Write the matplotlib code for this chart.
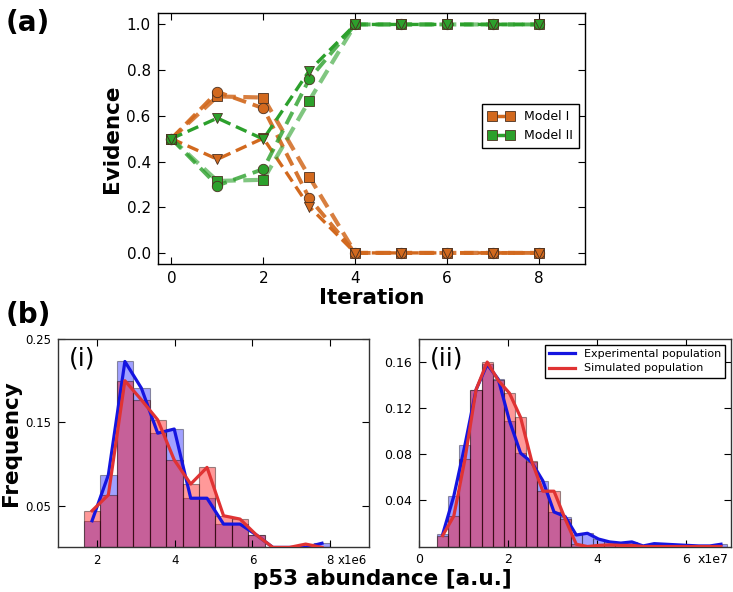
import numpy as np
import matplotlib
matplotlib.use("Agg")
import matplotlib.pyplot as plt

# ---------------- data ----------------
iterations = [0, 1, 2, 3, 4, 5, 6, 7, 8]
m1_square = [0.50, 0.685, 0.68, 0.333, 0.0, 0.0, 0.0, 0.0, 0.0]
m1_circle = [0.50, 0.705, 0.633, 0.239, 0.0, 0.0, 0.0, 0.0, 0.0]
m1_tri = [0.50, 0.41, 0.502, 0.202, 0.0, 0.0, 0.0, 0.0, 0.0]
m2_square = [0.50, 0.315, 0.32, 0.667, 1.0, 1.0, 1.0, 1.0, 1.0]
m2_circle = [0.50, 0.295, 0.367, 0.761, 1.0, 1.0, 1.0, 1.0, 1.0]
m2_tri = [0.50, 0.59, 0.498, 0.798, 1.0, 1.0, 1.0, 1.0, 1.0]
legend_a = ["Model I", "Model II"]

# panel (i): bin edges in units of 1e6
edges_i = [1.66, 2.08, 2.50, 2.93, 3.35, 3.77, 4.20, 4.62, 5.04, 5.47,
           5.89, 6.31, 6.74, 7.16, 7.58, 8.00]
exp_i = [0.032, 0.087, 0.223, 0.191, 0.137, 0.142, 0.059, 0.059, 0.028,
         0.028, 0.015, 0.0, 0.0, 0.0, 0.005]
sim_i = [0.044, 0.063, 0.200, 0.177, 0.153, 0.105, 0.076, 0.096, 0.038,
         0.034, 0.015, 0.0, 0.0, 0.004, 0.0]

# panel (ii): bin edges in units of 1e7
edges_ii = [0.40, 0.65, 0.90, 1.15, 1.40, 1.65, 1.90, 2.15, 2.40, 2.65,
            2.90, 3.15, 3.40, 3.65, 3.90, 4.15, 4.40, 4.65, 4.90, 5.15,
            5.40, 5.65, 5.90, 6.15, 6.40, 6.65, 6.90]
exp_ii = [0.0105, 0.0437, 0.088, 0.136, 0.158, 0.145, 0.109, 0.081, 0.073,
          0.057, 0.030, 0.026, 0.010, 0.0115, 0.0065, 0.004, 0.003, 0.004,
          0.0005, 0.0025, 0.002, 0.0015, 0.001, 0.0005, 0.0005, 0.002]
sim_ii = [0.0095, 0.0264, 0.0756, 0.136, 0.160, 0.144, 0.133, 0.112, 0.074,
          0.048, 0.048, 0.024, 0.002, 0.0, 0.001, 0.0015, 0.001, 0.001,
          0.0, 0.0, 0.0, 0.0, 0.0, 0.0, 0.0, 0.0]
legend_b = ["Experimental population", "Simulated population"]

xticks_i = [2, 4, 6, 8]
yticks_i = [0.05, 0.15, 0.25]
xticks_ii = [0, 2, 4, 6]
yticks_ii = [0.04, 0.08, 0.12, 0.16]

# ---------------- style ----------------
plt.rcParams['font.family'] = ['DejaVu Sans']
ORANGE = '#D2691E'
GREEN = '#2CA02C'
BLUE = '#1515E0'
RED = '#E03333'

fig = plt.figure(figsize=(7.33, 5.92), dpi=100)

def classic_ticks(ax, size):
    ax.tick_params(direction='in', top=True, right=True, length=5,
                   width=0.8, labelsize=size, colors='black', pad=5)

# ---------------- panel (a) ----------------
axa = fig.add_axes([0.2151, 0.5535, 0.583, 0.4245])
runs = [
    (m1_square, ORANGE, 's', 3.0, 0.85),
    (m1_circle, ORANGE, 'o', 2.8, 0.92),
    (m1_tri, ORANGE, 'v', 2.4, 1.0),
    (m2_square, GREEN, 's', 3.0, 0.6),
    (m2_circle, GREEN, 'o', 2.8, 0.8),
    (m2_tri, GREEN, 'v', 2.4, 1.0),
]
for vals, col, mk, lw, al in runs:
    axa.plot(iterations, vals, '--', color=col, lw=lw, alpha=al,
             dashes=(3.5, 1.8), zorder=2)
for vals, col, mk, lw, al in runs:
    axa.plot(iterations, vals, linestyle='none', marker=mk, ms=7.5,
             markerfacecolor=col, markeredgecolor='#4a3020', mew=0.6,
             zorder=3)
h1, = axa.plot([], [], '--', color=ORANGE, lw=2.5, marker='s', ms=7,
               markerfacecolor=ORANGE, markeredgecolor='#4a3020', mew=0.6)
h2, = axa.plot([], [], '--', color=GREEN, lw=2.5, marker='s', ms=7,
               markerfacecolor=GREEN, markeredgecolor='#4a3020', mew=0.6)
leg = axa.legend([h1, h2], legend_a, loc='center right',
                 bbox_to_anchor=(1.0, 0.55), numpoints=2, fontsize=9,
                 fancybox=False, framealpha=1, edgecolor='black',
                 handlelength=2.0, borderpad=0.5, labelspacing=0.5)
leg.get_frame().set_linewidth(1.0)
axa.set_xlim(-0.3, 9.0)
axa.set_ylim(-0.05, 1.05)
axa.set_xticks([0, 2, 4, 6, 8])
axa.set_yticks([0.0, 0.2, 0.4, 0.6, 0.8, 1.0])
axa.set_yticklabels(['0.0', '0.2', '0.4', '0.6', '0.8', '1.0'])
classic_ticks(axa, 11)
axa.set_xlabel('Iteration', fontsize=15.5, fontweight='bold', labelpad=1)
axa.set_ylabel('Evidence', fontsize=15.5, fontweight='bold', labelpad=3)
for s in axa.spines.values():
    s.set_linewidth(1.0)

fig.text(0.008, 0.985, '(a)', fontsize=20, fontweight='bold', va='top')
fig.text(0.008, 0.492, '(b)', fontsize=20, fontweight='bold', va='top')

# ---------------- histograms ----------------
def hist_panel(rect, edges, exp, sim, xlim, ylim, xticks, yticks, tag,
               offset, offset_x, ticksize):
    ax = fig.add_axes(rect)
    e = np.array(edges)
    w = np.diff(e)
    centers = e[:-1] + w / 2
    ax.bar(e[:-1], exp, width=w, align='edge', color='#0000FF', alpha=0.37,
           edgecolor='black', linewidth=0.8, zorder=1)
    ax.bar(e[:-1], sim, width=w, align='edge', color='#FF0000', alpha=0.4,
           edgecolor='black', linewidth=0.8, zorder=1)
    l1, = ax.plot(centers, exp, color=BLUE, lw=2.3, zorder=3)
    l2, = ax.plot(centers, sim, color=RED, lw=2.3, zorder=4)
    ax.set_xlim(*xlim)
    ax.set_ylim(*ylim)
    ax.set_xticks(xticks)
    ax.set_yticks(yticks)
    ax.set_yticklabels([('%.2f' % t) for t in yticks])
    classic_ticks(ax, ticksize)
    ax.text(0.035, 0.965, tag, transform=ax.transAxes, fontsize=18,
            va='top', ha='left')
    ax.annotate(offset, xy=(offset_x, 0), xycoords=('data', 'axes fraction'),
                xytext=(0, -5), textcoords='offset points', va='top',
                ha='left', fontsize=ticksize)
    for s in ax.spines.values():
        s.set_linewidth(1.0)
        s.set_color('#333333')
    return ax, l1, l2

axi, _, _ = hist_panel([0.0795, 0.0753, 0.4239, 0.3521], edges_i, exp_i,
                       sim_i, (1, 9), (0, 0.25), xticks_i, yticks_i, '(i)',
                       'x1e6', 8.2, 8.5)
axi.set_ylabel('Frequency', fontsize=15.5, fontweight='bold', labelpad=3)

axii, l1, l2 = hist_panel([0.572, 0.0768, 0.4253, 0.3506], edges_ii, exp_ii,
                          sim_ii, (0, 7), (0, 0.18), xticks_ii, yticks_ii,
                          '(ii)', 'x1e7', 6.25, 9)
leg2 = axii.legend([l1, l2], legend_b, loc='upper right', fontsize=8,
                   fancybox=False, framealpha=1, edgecolor='black',
                   handlelength=2.3, borderpad=0.4, labelspacing=0.4)
leg2.get_frame().set_linewidth(1.0)

fig.text(0.521, 0.005, 'p53 abundance [a.u.]', fontsize=15.5,
         fontweight='bold', ha='center', va='bottom')

fig.savefig('out.png', dpi=100)
